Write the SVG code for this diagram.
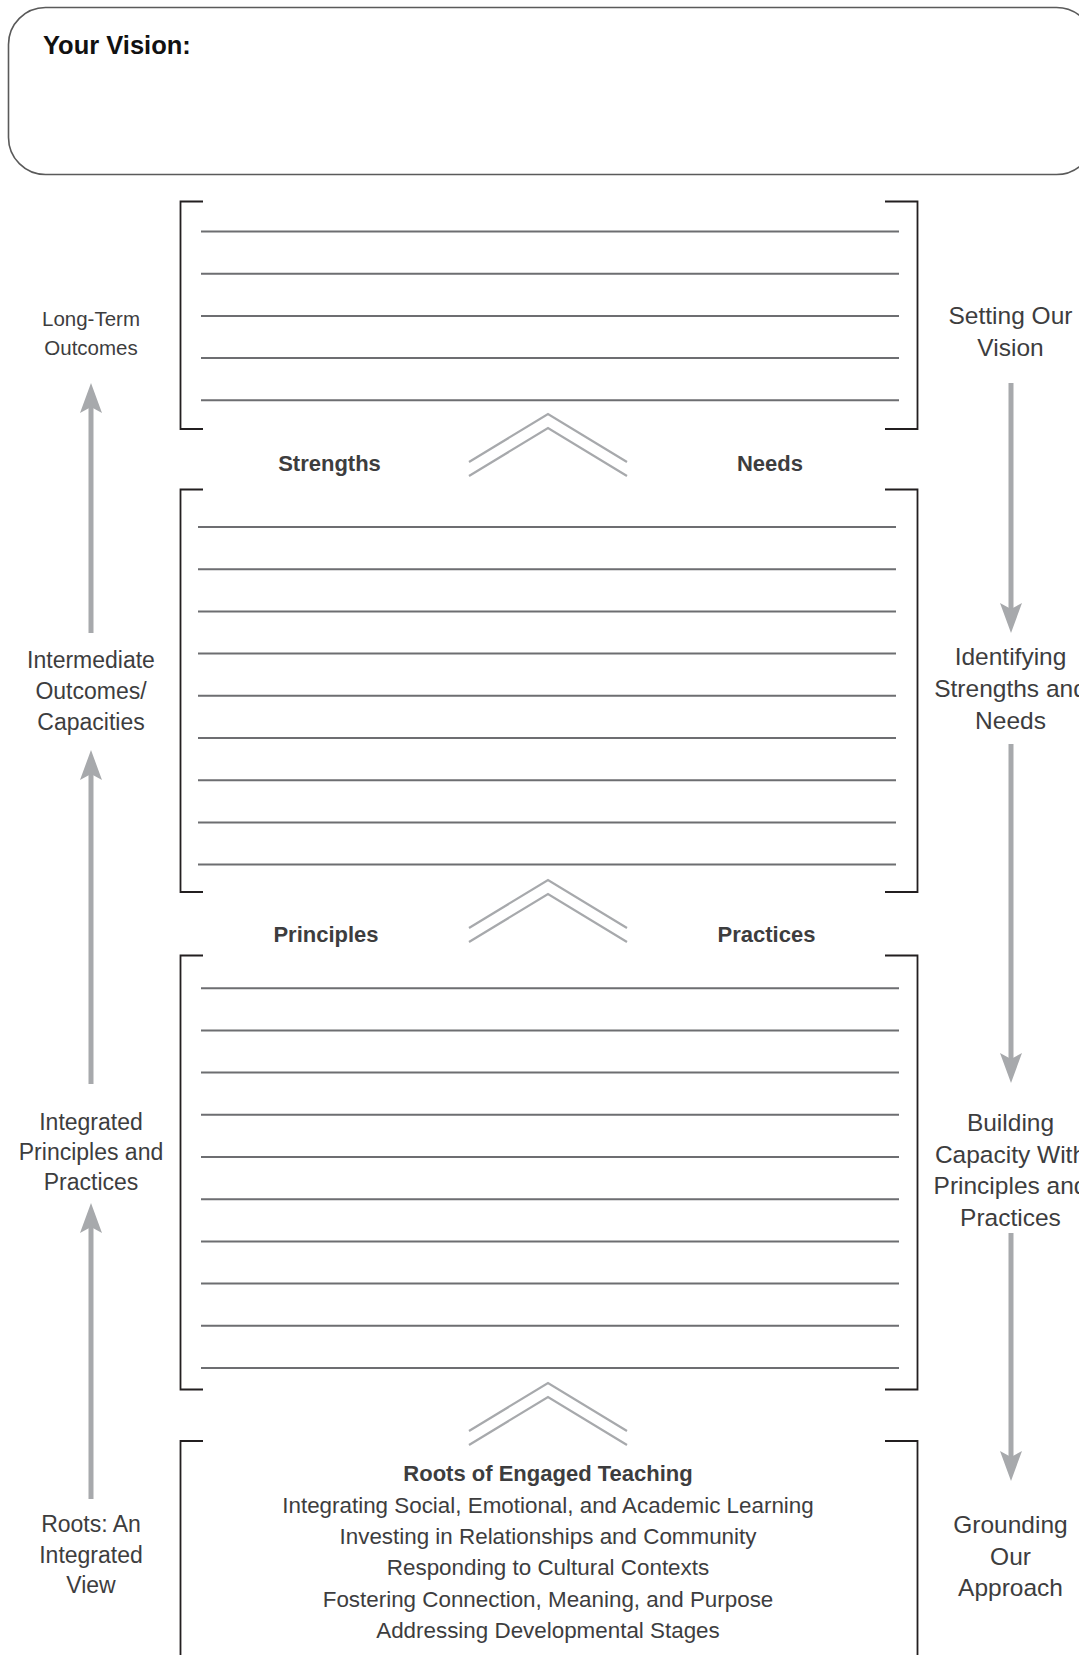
<svg xmlns="http://www.w3.org/2000/svg" xmlns:xlink="http://www.w3.org/1999/xlink" width="1079" height="1655" viewBox="0 0 1079 1655">
<style>
  .frame{fill:none;stroke:#5a5a5a;stroke-width:1.6}
  .bracket{fill:none;stroke:#231f20;stroke-width:1.8}
  .rule{fill:none;stroke:#6d6e71;stroke-width:2}
  .chev{fill:none;stroke:#a7a9ac;stroke-width:2.2}
  .shaft{fill:none;stroke:#a7a9ac;stroke-width:5}
  .lbl{font-family:"Liberation Sans",Arial,sans-serif;fill:#3d3d3e;text-anchor:middle}
  .side{font-size:23px}
  .sideR{font-size:24.5px}
  .head{font-family:"Liberation Sans",Arial,sans-serif;font-weight:bold;font-size:22px;fill:#3d3d3e;text-anchor:middle}
  .root{font-family:"Liberation Sans",Arial,sans-serif;font-size:22.4px;fill:#3d3d3e;text-anchor:middle}
</style>
<defs>
  <marker id="ah" markerUnits="userSpaceOnUse" viewBox="0 -12 32 24" refX="6" refY="0" markerWidth="32" markerHeight="24" orient="auto">
    <path d="M0,-11 L30,0 L0,11 L6,0 Z" fill="#a7a9ac"/>
  </marker>
  <g id="chevron">
    <polyline class="chev" points="-79,48 0,0 79,48"/>
    <polyline class="chev" points="-79,62 0,14 79,62"/>
  </g>
</defs>
<rect width="1079" height="1655" fill="#ffffff"/>

<g id="vision">
  <rect class="frame" x="8.5" y="7.5" width="1085" height="167" rx="37" ry="37"/>
  <text x="43" y="54" font-family="'Liberation Sans',Arial,sans-serif" font-weight="bold" font-size="25.5" fill="#111111">Your Vision:</text>
</g>

<g id="box-outcomes">
  <path class="bracket" d="M203,201.5 H180.5 V429 H203 M885,201.5 H917.5 V429 H885"/>
  <path class="rule" d="M201,231.5 H899 M201,273.7 H899 M201,315.9 H899 M201,358.1 H899 M201,400.3 H899"/>
</g>

<g id="box-strengths-needs">
  <path class="bracket" d="M203,489.5 H180.5 V892 H203 M885,489.5 H917.5 V892 H885"/>
  <path class="rule" d="M198,527 H896 M198,569.2 H896 M198,611.4 H896 M198,653.6 H896 M198,695.8 H896 M198,738 H896 M198,780.2 H896 M198,822.4 H896 M198,864.6 H896"/>
</g>

<g id="box-principles-practices">
  <path class="bracket" d="M203,955.5 H180.5 V1389.5 H203 M885,955.5 H917.5 V1389.5 H885"/>
  <path class="rule" d="M201,988.2 H899 M201,1030.4 H899 M201,1072.6 H899 M201,1114.8 H899 M201,1157 H899 M201,1199.2 H899 M201,1241.4 H899 M201,1283.6 H899 M201,1325.8 H899 M201,1368 H899"/>
</g>

<g id="box-roots">
  <path class="bracket" d="M203,1441 H180.5 V1660 M885,1441 H917.5 V1660"/>
  <text class="head" x="548" y="1481">Roots of Engaged Teaching</text>
  <text class="root" x="548" y="1513">Integrating Social, Emotional, and Academic Learning</text>
  <text class="root" x="548" y="1544">Investing in Relationships and Community</text>
  <text class="root" x="548" y="1575">Responding to Cultural Contexts</text>
  <text class="root" x="548" y="1606.5">Fostering Connection, Meaning, and Purpose</text>
  <text class="root" x="548" y="1637.5">Addressing Developmental Stages</text>
</g>

<g id="section-labels">
  <text class="head" x="329.5" y="471">Strengths</text>
  <text class="head" x="770" y="471">Needs</text>
  <text class="head" x="326" y="942">Principles</text>
  <text class="head" x="766.5" y="942">Practices</text>
</g>

<g id="chevrons">
  <use xlink:href="#chevron" href="#chevron" x="548" y="414"/>
  <use xlink:href="#chevron" href="#chevron" x="548" y="880"/>
  <use xlink:href="#chevron" href="#chevron" x="548" y="1383"/>
</g>

<g id="left-labels">
  <text class="lbl" font-size="20.5" x="91" y="326">Long-Term</text>
  <text class="lbl" font-size="20.5" x="91" y="355">Outcomes</text>
  <text class="lbl side" x="91" y="668">Intermediate</text>
  <text class="lbl side" x="91" y="699">Outcomes/</text>
  <text class="lbl side" x="91" y="730">Capacities</text>
  <text class="lbl side" x="91" y="1130">Integrated</text>
  <text class="lbl side" x="91" y="1160">Principles and</text>
  <text class="lbl side" x="91" y="1190">Practices</text>
  <text class="lbl side" x="91" y="1532">Roots: An</text>
  <text class="lbl side" x="91" y="1562.5">Integrated</text>
  <text class="lbl side" x="91" y="1593">View</text>
</g>

<g id="right-labels">
  <text class="lbl sideR" x="1010.5" y="324">Setting Our</text>
  <text class="lbl sideR" x="1010.5" y="356">Vision</text>
  <text class="lbl sideR" x="1010.5" y="665">Identifying</text>
  <text class="lbl sideR" x="1010.5" y="697">Strengths and</text>
  <text class="lbl sideR" x="1010.5" y="728.5">Needs</text>
  <text class="lbl sideR" x="1010.5" y="1131">Building</text>
  <text class="lbl sideR" x="1010.5" y="1162.5">Capacity With</text>
  <text class="lbl sideR" x="1010.5" y="1194">Principles and</text>
  <text class="lbl sideR" x="1010.5" y="1225.5">Practices</text>
  <text class="lbl sideR" x="1010.5" y="1533">Grounding</text>
  <text class="lbl sideR" x="1010.5" y="1564.5">Our</text>
  <text class="lbl sideR" x="1010.5" y="1596">Approach</text>
</g>

<g id="connectors">
  <line class="shaft" x1="91" y1="633" x2="91" y2="407" marker-end="url(#ah)"/>
  <line class="shaft" x1="91" y1="1084" x2="91" y2="774" marker-end="url(#ah)"/>
  <line class="shaft" x1="91" y1="1499" x2="91" y2="1227" marker-end="url(#ah)"/>
  <line class="shaft" x1="1011" y1="383" x2="1011" y2="609" marker-end="url(#ah)"/>
  <line class="shaft" x1="1011" y1="744" x2="1011" y2="1059" marker-end="url(#ah)"/>
  <line class="shaft" x1="1011" y1="1233" x2="1011" y2="1457" marker-end="url(#ah)"/>
</g>
</svg>
